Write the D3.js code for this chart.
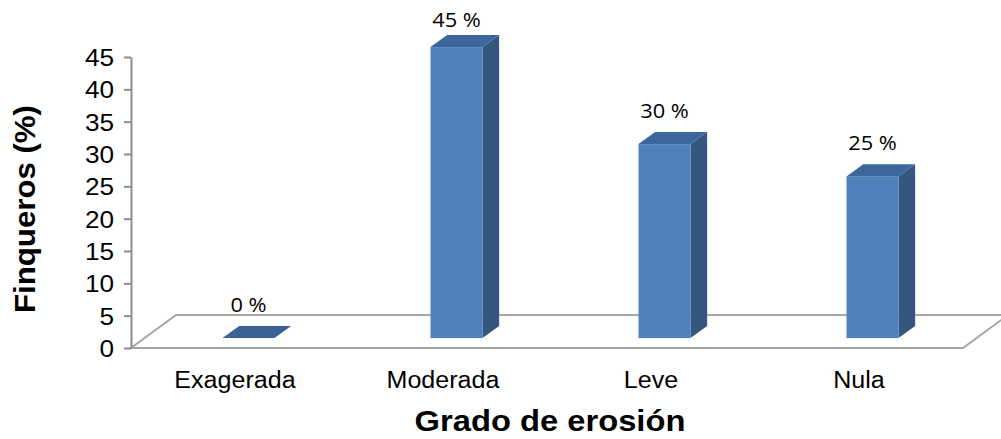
<!DOCTYPE html>
<html>
<head>
<meta charset="utf-8">
<script src="https://cdn.jsdelivr.net/npm/d3@7/dist/d3.min.js"></script>
<style>
  html, body { margin: 0; padding: 0; background: #fff; }
  svg { display: block; }
</style>
</head>
<body>
<svg id="chart" width="1001" height="439"></svg>
<script>
// Erosion grade categories and share of farmers (%)
const categories = ["Exagerada", "Moderada", "Leve", "Nula"];
const values = [0, 45, 30, 25];
const yTicks = [0, 5, 10, 15, 20, 25, 30, 35, 40, 45];
const xTitle = "Grado de erosión";
const yTitle = "Finqueros (%)";

const svg = d3.select("#chart");
const SANS = "Liberation Sans, Arial, sans-serif";
const WIDEN = 1.09;

// Slightly widen a text element horizontally
function widen(sel, k = WIDEN) {
  sel.each(function () {
    const w = this.getComputedTextLength();
    d3.select(this).attr("textLength", w * k).attr("lengthAdjust", "spacingAndGlyphs");
  });
}

// Front floor edge and value scale
const x = d3.scaleBand().domain(categories).range([131, 963]);
const y = d3.scaleLinear().domain([0, 45]).range([348, 57]);

// Oblique depth vector of the floor
const depth = { dx: 45, dy: -33 };
const barDepthStart = 0.3, barDepthEnd = 0.67;
const barWidthFrac = 0.25;

const base = y(0);

// Floor parallelogram
const floor = [
  [x.range()[0], base],
  [x.range()[1], base],
  [x.range()[1] + depth.dx, base + depth.dy],
  [x.range()[0] + depth.dx, base + depth.dy]
];
svg.append("path")
  .attr("d", d3.line()(floor) + "Z")
  .attr("fill", "none")
  .attr("stroke", "#a6a6a6")
  .attr("stroke-width", 2);

// Y axis
const yAxis = d3.axisLeft(y).tickValues(yTicks).tickSize(7).tickPadding(10).tickSizeOuter(0);
const gy = svg.append("g").attr("transform", `translate(${x.range()[0]},0)`).call(yAxis);
gy.select(".domain").attr("stroke", "#8c8c8c").attr("stroke-width", 2);
gy.selectAll(".tick line").attr("stroke", "#8c8c8c").attr("stroke-width", 2);
gy.selectAll(".tick text")
  .attr("font-family", SANS)
  .attr("font-size", 24)
  .attr("dy", "0.36em")
  .attr("fill", "#000")
  .call(widen);

// 3D bars
const colors = { front: "#4f81bd", side: "#34577f", top: "#3d679b", flat: "#3a6295" };
const bw = x.bandwidth() * barWidthFrac;
const ox = depth.dx * barDepthStart, oy = depth.dy * barDepthStart;
const tx = depth.dx * (barDepthEnd - barDepthStart), ty = depth.dy * (barDepthEnd - barDepthStart);

const bars = svg.append("g");
const labels = svg.append("g");
categories.forEach((c, i) => {
  const v = values[i];
  const x0 = x(c) + (x.bandwidth() - bw) / 2 + ox;
  const x1 = x0 + bw;
  const yb = base + oy;
  const yt = y(v) + oy;
  const g = bars.append("g");
  if (v > 0) {
    // side face
    g.append("path").attr("d", d3.line()([[x1, yt], [x1 + tx, yt + ty], [x1 + tx, yb + ty], [x1, yb]]) + "Z")
      .attr("fill", colors.side);
    // front face
    g.append("rect").attr("x", x0).attr("y", yt).attr("width", bw).attr("height", yb - yt)
      .attr("fill", colors.front);
  }
  // top face
  g.append("path").attr("d", d3.line()([[x0, yt], [x1, yt], [x1 + tx, yt + ty], [x0 + tx, yt + ty]]) + "Z")
    .attr("fill", v > 0 ? colors.top : colors.flat);

  // value label, kept inside the top margin
  labels.append("text")
    .attr("x", (x0 + x1) / 2)
    .attr("y", Math.max(yt + ty - 14, 27))
    .attr("text-anchor", "middle")
    .attr("font-family", "Open Sans, Noto Sans, sans-serif")
    .attr("font-size", 20)
    .attr("fill", "#000")
    .text(`${v} %`)
    .call(widen);
});

// Category labels
svg.append("g").selectAll("text").data(categories).join("text")
  .attr("x", d => x(d) + x.bandwidth() / 2)
  .attr("y", 388)
  .attr("text-anchor", "middle")
  .attr("font-family", SANS)
  .attr("font-size", 23)
  .attr("fill", "#000")
  .text(d => d)
  .call(widen);

// Axis titles
svg.append("text")
  .attr("x", 550).attr("y", 431)
  .attr("text-anchor", "middle")
  .attr("font-family", SANS)
  .attr("font-weight", "bold")
  .attr("font-size", 30)
  .text(xTitle)
  .call(widen);

svg.append("text")
  .attr("transform", "translate(35,209) rotate(-90)")
  .attr("text-anchor", "middle")
  .attr("font-family", SANS)
  .attr("font-weight", "bold")
  .attr("font-size", 30)
  .text(yTitle)
  .call(widen, 1.04);
</script>
</body>
</html>
